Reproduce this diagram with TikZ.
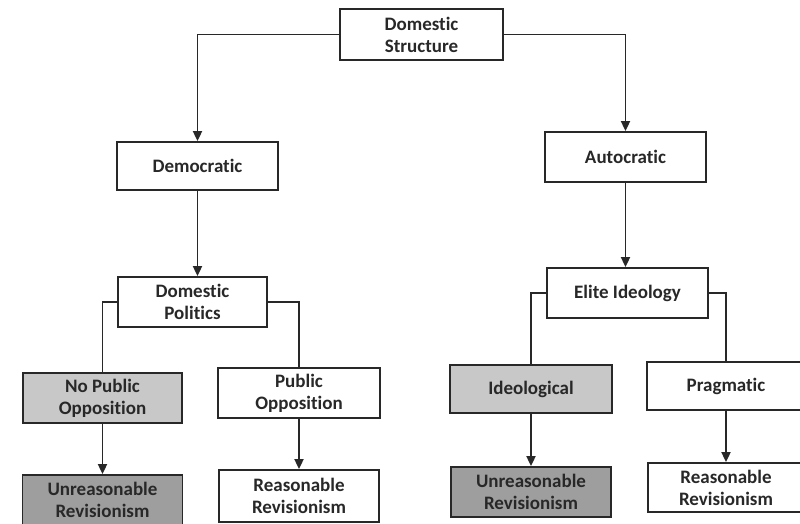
\documentclass[tikz,border=0pt]{standalone}
\usepackage{fontspec}
\setmainfont{Carlito}[Ligatures=NoCommon]
\usetikzlibrary{arrows.meta}
\definecolor{lightbox}{RGB}{200,200,200}
\definecolor{darkbox}{RGB}{158,158,158}
\definecolor{ink}{RGB}{40,40,40}
\tikzset{
  box/.style={draw=ink, line width=1.8pt, rectangle, inner sep=0pt, align=center,
    font=\fontsize{19}{22}\selectfont\bfseries, text=ink},
  conn/.style={draw=ink, line width=1.8pt},
  arr/.style={conn, -{Triangle[length=10pt,width=9pt]}}
}
\begin{document}
\begin{tikzpicture}[x=1pt,y=-1pt]
\useasboundingbox (0,0) rectangle (800,523);
\fill[white] (0,0) rectangle (800,523);
\node[box, minimum width=163pt, minimum height=51pt] (ds) at (421.5,34.5) {Domestic\\Structure};
\node[box, minimum width=161pt, minimum height=48pt] (dem) at (197.5,166) {Democratic};
\node[box, minimum width=161pt, minimum height=50pt] (aut) at (625.5,157) {Autocratic};
\node[box, minimum width=149pt, minimum height=50pt] (dp) at (192.5,302) {Domestic\\Politics};
\node[box, minimum width=161pt, minimum height=50pt] (ei) at (627.5,293) {Elite Ideology};
\node[box, fill=lightbox, minimum width=159pt, minimum height=50pt] (npo) at (102.5,398) {No Public\\Opposition};
\node[box, minimum width=162pt, minimum height=50pt] (po) at (299,393) {Public\\Opposition};
\node[box, fill=darkbox, minimum width=160pt, minimum height=50pt] (ur1) at (102.5,500) {Unreasonable\\Revisionism};
\node[box, minimum width=160pt, minimum height=52pt] (rr1) at (299,496) {Reasonable\\Revisionism};
\node[box, fill=lightbox, minimum width=162pt, minimum height=48pt] (ideo) at (531,389) {Ideological};
\node[box, minimum width=158pt, minimum height=48pt] (prag) at (726,386) {Pragmatic};
\node[box, fill=darkbox, minimum width=160pt, minimum height=50pt] (ur2) at (531,492) {Unreasonable\\Revisionism};
\node[box, minimum width=156pt, minimum height=49pt] (rr2) at (726,487.5) {Reasonable\\Revisionism};
\draw[arr] (ds.west) -| (dem.north);
\draw[arr] (ds.east) -| (aut.north);
\draw[arr] (dem.south) -- (dem.south |- dp.north);
\draw[arr] (aut.south) -- (aut.south |- ei.north);
\draw[conn] (dp.west) -| (npo.north);
\draw[conn] (dp.east) -| (po.north);
\draw[conn] (ei.west) -| (ideo.north);
\draw[conn] (ei.east) -| (prag.north);
\draw[arr] (npo.south) -- (ur1.north);
\draw[arr] (po.south) -- (rr1.north);
\draw[arr] (ideo.south) -- (ur2.north);
\draw[arr] (prag.south) -- (rr2.north);
\end{tikzpicture}
\end{document}
